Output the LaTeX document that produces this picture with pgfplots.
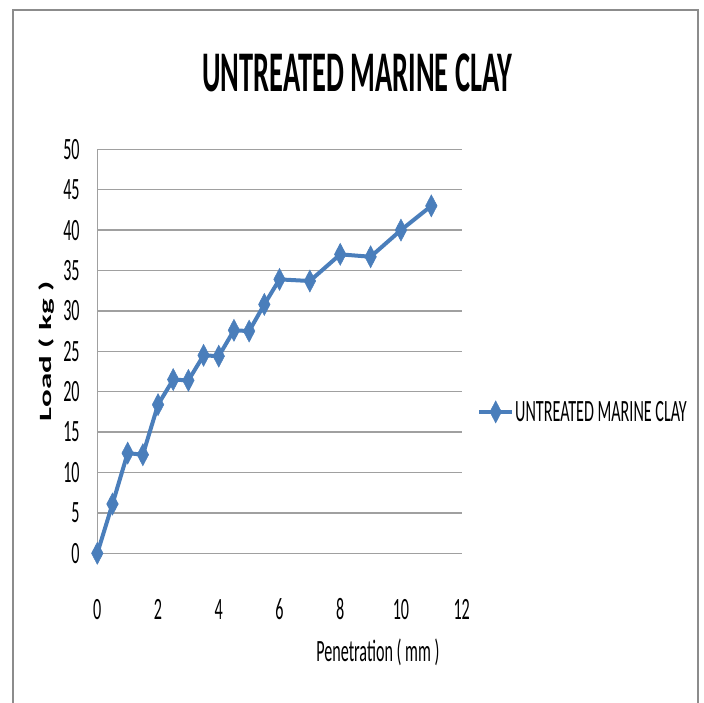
\documentclass[border=0pt]{standalone}
\usepackage{fontspec}
\setmainfont{Carlito}
\newfontfamily\cf[FakeStretch=0.52]{Carlito}
\usepackage{pgfplots}
\pgfplotsset{compat=1.18}
\definecolor{serblue}{HTML}{4A7EBB}
\definecolor{gridgray}{HTML}{A0A0A0}
\definecolor{framegray}{HTML}{8C8C8C}
\begin{document}
\begin{tikzpicture}
\path[use as bounding box] (0pt,0pt) rectangle (704pt,702pt);
\fill[white] (0pt,0pt) rectangle (704pt,702pt);
\draw[framegray, line width=2pt] (13pt,-10pt) -- (13pt,692pt) -- (698pt,692pt) -- (698pt,-10pt);
\begin{axis}[
  at={(97.3pt,148.7pt)}, anchor=south west,
  scale only axis, width=364.4pt, height=404pt,
  xmin=0, xmax=12, ymin=0, ymax=50,
  xtick={0,2,...,12}, ytick={0,5,...,50},
  axis lines=left,
  axis line style={-, draw=gridgray, line width=1.5pt},
  major tick style={draw=none},
  ymajorgrids,
  grid style={draw=gridgray, line width=1.5pt},
  clip=false,
  /pgf/number format/assume math mode=true,
  ticklabel style={font=\cf\fontsize{31}{34}\selectfont, inner sep=0pt},
  yticklabel style={anchor=east, xshift=-15.3pt},
  xticklabel style={anchor=center, yshift=-53.7pt},
  title={\scalebox{0.95}[1]{\cf\bfseries\fontsize{57.5}{60}\selectfont UNTREATED MARINE CLAY}},
  title style={at={(axis description cs:0.713,1.174)}, anchor=center, inner sep=0pt},
  xlabel={\cf\fontsize{31}{34}\selectfont Penetration ( mm )},
  xlabel style={at={(axis description cs:0.770,-0.244)}, anchor=center, inner sep=0pt},
  ylabel={\scalebox{1}[0.52]{\bfseries\fontsize{33}{36}\selectfont Load ( kg )}},
  ylabel style={at={(axis description cs:-0.138,0.5)}, anchor=center, inner sep=0pt},
  legend style={at={(axis description cs:1.042,0.35)}, anchor=west, draw=none, fill=none,
    inner sep=0pt, font=\cf\fontsize{31}{34}\selectfont, nodes={inner sep=0pt},
    /tikz/every odd column/.append style={column sep=1pt}},
  legend cell align=left,
  legend image code/.code={\draw[mark repeat=2,mark phase=2,#1] plot coordinates {(0pt,0pt) (16.5pt,0pt) (33pt,0pt)};},
]
\addplot[serblue, line width=4pt, mark=diamond*, mark size=11pt,
  mark options={solid, xscale=0.7, line width=0.5pt, fill=serblue}]
  coordinates {
  (0,0) (0.5,6.1) (1,12.4) (1.5,12.2) (2,18.4) (2.5,21.5) (3,21.4)
  (3.5,24.5) (4,24.4) (4.5,27.6) (5,27.5) (5.5,30.8) (6,33.9)
  (7,33.7) (8,37.0) (9,36.7) (10,40.0) (11,43.0)
  };
\addlegendentry{UNTREATED MARINE CLAY}
\end{axis}
\end{tikzpicture}
\end{document}
